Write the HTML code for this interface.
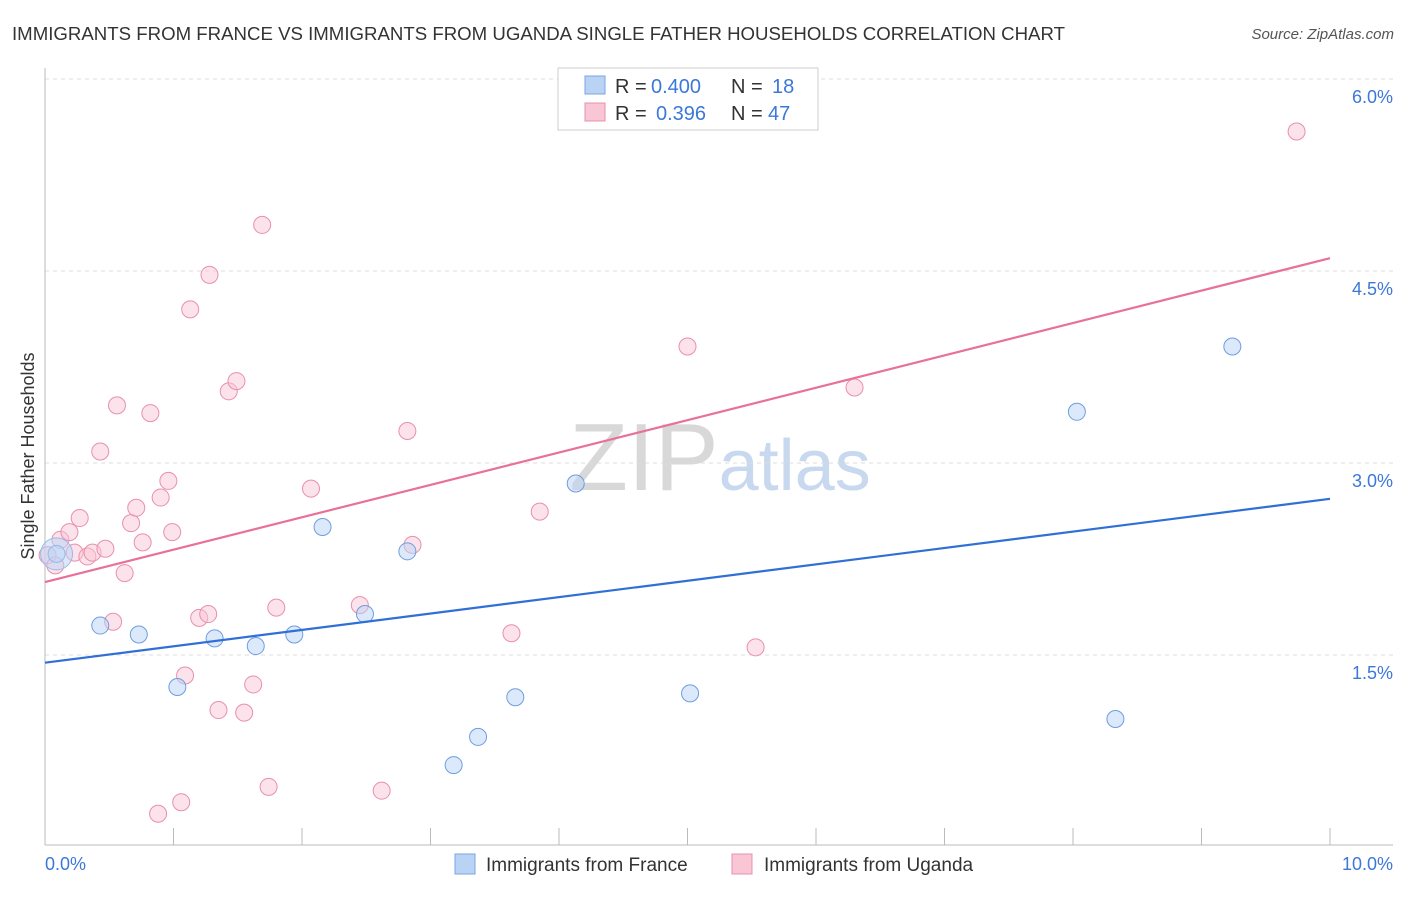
<!DOCTYPE html>
<html><head><meta charset="utf-8"><style>
body{margin:0;background:#fff;font-family:"Liberation Sans",sans-serif;}
svg text{font-family:"Liberation Sans",sans-serif;}
</style></head><body>
<svg id="c" width="1406" height="892" xmlns="http://www.w3.org/2000/svg">
<text x="12" y="40" font-size="18" fill="#333" textLength="1053" lengthAdjust="spacingAndGlyphs">IMMIGRANTS FROM FRANCE VS IMMIGRANTS FROM UGANDA SINGLE FATHER HOUSEHOLDS CORRELATION CHART</text>
<text x="1394" y="39" font-size="15" fill="#555" font-style="italic" text-anchor="end">Source: ZipAtlas.com</text>
<text x="720" y="490" font-size="96" fill="#d8d8d8" text-anchor="middle" font-family="Liberation Serif">ZIP<tspan fill="#c8d8ee" font-family="Liberation Sans" font-size="72">atlas</tspan></text>
<text transform="translate(34,456) rotate(-90)" font-size="18" fill="#333" text-anchor="middle">Single Father Households</text>
<g id="grid"></g><g id="marks"></g>
<g>
<rect x="558" y="68" width="260" height="62" fill="#fff" stroke="#ccc"/>
<rect x="585" y="76" width="20" height="18" fill="#b9d3f5" stroke="#7aa6e0"/>
<rect x="585" y="103" width="20" height="18" fill="#f9c6d6" stroke="#e890ad"/>
<text x="615" y="93" font-size="20" fill="#333">R =</text>
<text x="651" y="93" font-size="20" fill="#3b78d8">0.400</text>
<text x="731" y="93" font-size="20" fill="#333">N =</text>
<text x="772" y="93" font-size="20" fill="#3b78d8">18</text>
<text x="615" y="120" font-size="20" fill="#333">R =</text>
<text x="656" y="120" font-size="20" fill="#3b78d8">0.396</text>
<text x="731" y="120" font-size="20" fill="#333">N =</text>
<text x="768" y="120" font-size="20" fill="#3b78d8">47</text>
</g>
<g>
<rect x="455" y="854" width="20" height="20" fill="#b9d3f5" stroke="#7aa6e0"/>
<text x="486" y="871" font-size="19" fill="#333">Immigrants from France</text>
<rect x="732" y="854" width="20" height="20" fill="#f9c6d6" stroke="#e890ad"/>
<text x="764" y="871" font-size="19" fill="#333">Immigrants from Uganda</text>
</g>
</svg>
<script>
const yTicks=[1.5,3.0,4.5,6.0];
const xTickLabels=["0.0%","10.0%"];
const franceX=[0.09,0.43,0.73,1.03,1.32,1.64,1.94,2.16,2.49,2.82,3.18,3.37,3.66,4.13,5.02,8.03,8.33,9.24];
const franceY=[2.29,1.73,1.66,1.25,1.63,1.57,1.66,2.5,1.82,2.31,0.64,0.86,1.17,2.84,1.2,3.4,1.0,3.91];
const ugandaX=[0.02,0.08,0.12,0.19,0.23,0.27,0.33,0.37,0.43,0.47,0.53,0.56,0.62,0.67,0.71,0.76,0.82,0.88,0.9,0.96,0.99,1.06,1.09,1.13,1.2,1.27,1.28,1.35,1.43,1.49,1.55,1.62,1.69,1.74,1.8,2.07,2.45,2.62,2.82,2.86,3.63,3.85,5.0,5.45,5.53,6.3,9.74];
const ugandaY=[2.28,2.2,2.4,2.46,2.3,2.57,2.27,2.3,3.09,2.33,1.76,3.45,2.14,2.53,2.65,2.38,3.39,0.26,2.73,2.86,2.46,0.35,1.34,4.2,1.79,1.82,4.47,1.07,3.56,3.64,1.05,1.27,4.86,0.47,1.87,2.8,1.89,0.44,3.25,2.36,1.67,2.62,3.91,5.76,1.56,3.59,5.59];
const franceTrend=[1.44,2.72];
const ugandaTrend=[2.07,4.6];
const X0=45,X1=1330,Y0=847,PPU=128;
const sx=v=>X0+(X1-X0)*v/10, sy=v=>Y0-v*PPU;
const NS="http://www.w3.org/2000/svg";
function mk(p,t,a){const e=document.createElementNS(NS,t);for(const k in a)e.setAttribute(k,a[k]);p.appendChild(e);return e;}
const g=document.getElementById('grid'), m=document.getElementById('marks');
yTicks.forEach(t=>{
 const l=mk(g,'line',{x1:45,x2:1393,y1:sy(t),y2:sy(t),stroke:'#ddd','stroke-dasharray':'4,4'});
 
 
 const tx=mk(g,'text',{x:1393,y:sy(t)+24,'font-size':18,fill:'#3b78d8','text-anchor':'end'});
 tx.textContent=t.toFixed(1)+'%';
 
 
});
const ax=mk(g,'line',{x1:45,x2:45,y1:68,y2:845,stroke:'#bbb'});


const bx=mk(g,'line',{x1:45,x2:1393,y1:845,y2:845,stroke:'#bbb'});


for(let i=0;i<=10;i++){const t=mk(g,'line',{x1:sx(i),x2:sx(i),y1:828,y2:845,stroke:'#bbb'});
 
 }
xTickLabels.forEach((s,i)=>{const t=mk(g,'text',{x:i?1393:45,y:870,'font-size':18,fill:'#3b78d8','text-anchor':i?'end':'start'});t.textContent=s;
 
 });
function pts(xs,ys,fill,stroke,name){xs.forEach((x,i)=>{const c=mk(m,'circle',{cx:sx(x),cy:sy(ys[i]),r:8.5,fill:fill,'fill-opacity':0.5,stroke:stroke,'stroke-width':1});
 
 });}
pts(ugandaX,ugandaY,'#f9c6d6','#e890ad','uganda-point');
pts(franceX,franceY,'#b9d3f5','#6d9ee0','france-point');
const big=mk(m,'circle',{cx:sx(franceX[0]),cy:sy(franceY[0]),r:16,fill:'#b9d3f5','fill-opacity':0.5,stroke:'#9bb8e8'});


const tb=mk(m,'line',{x1:sx(0),y1:sy(franceTrend[0]),x2:sx(10),y2:sy(franceTrend[1]),stroke:'#2f6fd6','stroke-width':2.2});


const tp=mk(m,'line',{x1:sx(0),y1:sy(ugandaTrend[0]),x2:sx(10),y2:sy(ugandaTrend[1]),stroke:'#e8709a','stroke-width':2.2});


</script>
</body></html>
